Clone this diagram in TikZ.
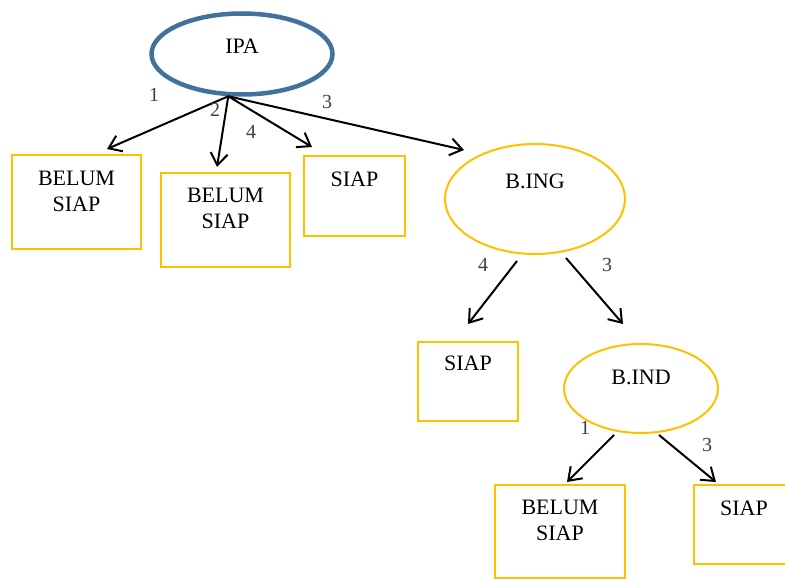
\documentclass[tikz,border=0pt]{standalone}
\usepackage{fontspec}
\setmainfont{Liberation Serif}
\usepackage{tikz}
\usetikzlibrary{shapes.geometric,arrows.meta,calc}

\definecolor{biru}{HTML}{41719C}
\definecolor{kuning}{HTML}{FFC000}
\definecolor{abu}{HTML}{404040}

\tikzset{
  kotak/.style={draw=kuning, line width=2pt, inner sep=0pt},
  oval/.style={ellipse, draw=kuning, line width=2pt, inner sep=0pt},
  teks/.style={anchor=north, inner sep=0pt, align=center, font=\fontsize{22}{26}\selectfont},
  angka/.style={inner sep=0pt, text=abu, font=\fontsize{20}{24}\selectfont},
  panah/.style={line width=2pt, -{Straight Barb[length=12pt,width=17pt,line width=2pt]}}
}

\begin{document}
\begin{tikzpicture}[x=1pt, y=-1pt]
      \useasboundingbox (0, 0) rectangle (785, 580);
      % akar
      \node[ellipse, draw=biru, line width=4.5pt, minimum width=181pt, minimum height=81pt] (ipa) at (242, 54) {};
      \node[teks] (tipa) at ($(ipa.center)+(0, -15)$) {IPA};
      % cabang pertama
      \node[kotak, minimum width=129pt, minimum height=94pt] (b1) at (76.5, 202) {};
      \node[kotak, minimum width=129pt, minimum height=94pt] (b2) at (225.5, 220) {};
      \node[kotak, minimum width=101pt, minimum height=80pt] (b3) at (354.5, 196) {};
      \node[oval, minimum width=180pt, minimum height=110pt] (ing) at (535, 199) {};
      \node[teks] (t1) at ($(b1.north)+(0, 16.5)$) {BELUM\\SIAP};
      \node[teks] (t2) at ($(b2.north)+(0, 15.5)$) {BELUM\\SIAP};
      \node[teks] (t3) at ($(b3.north)+(0, 16.5)$) {SIAP};
      \node[teks] (ting) at ($(ing.center)+(0, -25.5)$) {B.ING};
      % cabang kedua
      \node[kotak, minimum width=100pt, minimum height=79pt] (b4) at (468, 381.5) {};
      \node[oval, minimum width=154pt, minimum height=89pt] (ind) at (641, 388.5) {};
      \node[teks] (t4) at ($(b4.north)+(0, 14.5)$) {SIAP};
      \node[teks] (tind) at ($(ind.center)+(0, -19)$) {B.IND};
      % cabang ketiga
      \node[kotak, minimum width=130pt, minimum height=93pt] (b5) at (560, 531.5) {};
      \node[kotak, minimum width=101pt, minimum height=79pt] (b6) at (744, 524.5) {};
      \node[teks] (t5) at ($(b5.north)+(0, 15.5)$) {BELUM\\SIAP};
      \node[teks] (t6) at ($(b6.north)+(0, 16.5)$) {SIAP};
      % panah
      \draw[panah] (ipa.252) -- ($(b1.north)+(30.5, -5)$);
      \draw[panah] (ipa.252) -- ($(b2.north)+(-8.5, -5)$);
      \draw[panah] (ipa.252) -- ($(b3.north)+(-42.5, -8)$);
      \draw[panah] (ipa.252) -- ($(ing.west)+(20, -49)$);
      \draw[panah] ($(ing.south)+(-18, 6)$) -- ($(b4.north)+(0, -17)$);
      \draw[panah] ($(ing.south)+(31, 3)$) -- ($(ind.north)+(-18, -19)$);
      \draw[panah] ($(ind.south)+(-27, 1)$) -- ($(b5.north)+(7, -2)$);
      \draw[panah] ($(ind.south)+(18, 1)$) -- ($(b6.north)+(-28, -2)$);
      % angka
      \node[angka] (n1) at (154, 95) {1};
      \node[angka] (n2) at (215, 110) {2};
      \node[angka] (n3) at (251, 132) {4};
      \node[angka] (n4) at (327, 102) {3};
      \node[angka] (n5) at (483, 265) {4};
      \node[angka] (n6) at (607, 265) {3};
      \node[angka] (n7) at (585, 428) {1};
      \node[angka] (n8) at (707, 445) {3};
\end{tikzpicture}
\end{document}
